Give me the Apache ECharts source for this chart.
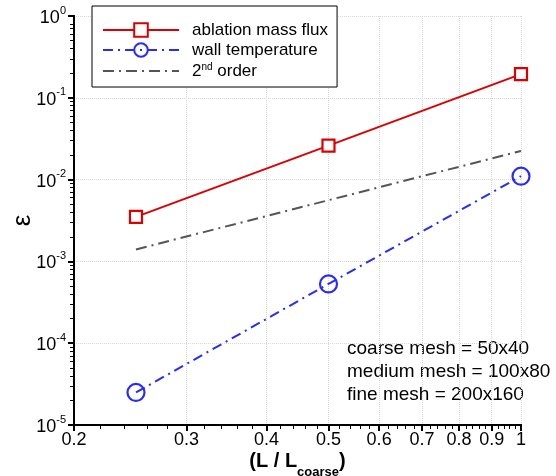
<!DOCTYPE html>
<html>
<head>
<meta charset="utf-8">
<script src="https://cdn.jsdelivr.net/npm/echarts@6/dist/echarts.min.js"></script>
<style>
html,body{margin:0;padding:0;background:#fff;}
#chart{width:556px;height:476px;}
</style>
</head>
<body>
<div id="chart"></div>
<script>
// ---- data ----
const meshRatio = [0.25, 0.5, 1];
const ablationMassFlux = [3.5e-3, 2.6e-2, 0.195];
const wallTemperature = [2.5e-5, 5.3e-4, 1.1e-2];
const orderRatio = [0.25, 1];
const secondOrder = [1.4e-3, 2.24e-2];

const xMajorTicks = [0.2, 0.3, 0.4, 0.5, 0.6, 0.7, 0.8, 0.9, 1];
const xMinorTicks = [0.22, 0.24, 0.26, 0.28, 0.32, 0.34, 0.36, 0.38, 0.42, 0.44, 0.46, 0.48,
  0.52, 0.54, 0.56, 0.58, 0.62, 0.64, 0.66, 0.68, 0.72, 0.74, 0.76, 0.78,
  0.82, 0.84, 0.86, 0.88, 0.92, 0.94, 0.96, 0.98];
const yMajorTicks = [1e-5, 1e-4, 1e-3, 1e-2, 1e-1, 1];
const yMinorMantissas = [2, 3, 4, 5, 6, 7, 8, 9];
const yMinorTicks = [];
for (let e = -5; e < 0; e++) yMinorMantissas.forEach(m => yMinorTicks.push(m * Math.pow(10, e)));

const annotationLines = ['coarse mesh = 50x40', 'medium mesh = 100x80', 'fine mesh = 200x160'];

const FONT = 'Liberation Sans, Arial, Helvetica, sans-serif';

const chart = echarts.init(document.getElementById('chart'), null, {renderer: 'canvas'});

const gridRect = {left: 74, right: 35, top: 16, bottom: 51, containLabel: false, outerBoundsMode: 'none'};

const hiddenLabel = function (values) {
  return {show: true, customValues: values, color: 'rgba(0,0,0,0)', fontSize: 8, formatter: function () { return ' '; }};
};

const option = {
  backgroundColor: '#fff',
  animation: false,
  textStyle: {fontFamily: FONT},
  grid: [Object.assign({}, gridRect), Object.assign({}, gridRect)],
  legend: {
    left: 92, top: 6,
    orient: 'vertical',
    backgroundColor: '#fff',
    borderColor: '#000', borderWidth: 1,
    padding: [16, 9, 7, 10],
    itemWidth: 76, itemHeight: 17, itemGap: 3,
    data: [
      {name: 'ablation mass flux'},
      {name: 'wall temperature'},
      {name: '2nd order', itemStyle: {opacity: 0}}
    ],
    formatter: function (name) {
      return name === '2nd order' ? '{t|2}{sup|nd}{t| order}' : '{t|' + name + '}';
    },
    textStyle: {
      fontFamily: FONT, fontSize: 17, color: '#000', padding: [0, 0, 0, 8],
      rich: {
        t: {fontFamily: FONT, fontSize: 17, color: '#000', verticalAlign: 'bottom', lineHeight: 18},
        sup: {fontFamily: FONT, fontSize: 10, color: '#000', verticalAlign: 'top', lineHeight: 18}
      }
    }
  },
  xAxis: [{
    gridIndex: 0,
    type: 'log', logBase: 10, min: 0.2, max: 1,
    position: 'bottom',
    name: '{b|(L / L}{s|coarse}{b|)}',
    nameLocation: 'middle', nameGap: 26, nameMoveOverlap: false,
    nameTextStyle: {
      rich: {
        b: {fontFamily: FONT, fontSize: 20, fontWeight: 'bold', color: '#000', verticalAlign: 'top', lineHeight: 22},
        s: {fontFamily: FONT, fontSize: 13, fontWeight: 'bold', color: '#000', verticalAlign: 'bottom', lineHeight: 28}
      }
    },
    axisLine: {show: true, lineStyle: {color: '#000', width: 2}},
    axisTick: {show: true, customValues: xMajorTicks, length: 6, lineStyle: {color: '#000', width: 2}},
    axisLabel: {
      customValues: xMajorTicks, margin: 6,
      fontFamily: FONT, fontSize: 18, color: '#000',
      formatter: function (v) { return String(+(+v).toFixed(2)); }
    },
    splitLine: {show: true, lineStyle: {type: 'dotted', color: '#d8d8d8', width: 1}},
    minorTick: {show: false}
  }, {
    gridIndex: 1,
    type: 'log', logBase: 10, min: 0.2, max: 1,
    position: 'bottom',
    axisLine: {show: true, lineStyle: {color: '#000', width: 2}},
    axisTick: {show: true, customValues: xMinorTicks, length: 4, lineStyle: {color: '#000', width: 1}},
    axisLabel: hiddenLabel(xMinorTicks),
    splitLine: {show: false}
  }],
  yAxis: [{
    gridIndex: 0,
    type: 'log', logBase: 10, min: 1e-5, max: 1,
    position: 'left',
    name: 'ε', nameLocation: 'middle', nameGap: 38, nameRotate: 90, nameMoveOverlap: false,
    nameTextStyle: {fontFamily: FONT, fontSize: 26, color: '#000'},
    axisLine: {show: true, lineStyle: {color: '#000', width: 2}},
    axisTick: {show: true, customValues: yMajorTicks, length: 6, lineStyle: {color: '#000', width: 2}},
    axisLabel: {
      customValues: yMajorTicks, margin: 8,
      formatter: function (v) {
        const e = Math.round(Math.log10(v));
        return '{b|10}{sup|' + e + '}';
      },
      rich: {
        b: {fontFamily: FONT, fontSize: 18, color: '#000', verticalAlign: 'bottom', lineHeight: 22},
        sup: {fontFamily: FONT, fontSize: 11, color: '#000', verticalAlign: 'top', lineHeight: 22}
      }
    },
    splitLine: {show: true, lineStyle: {type: 'dotted', color: '#d8d8d8', width: 1}}
  }, {
    gridIndex: 1,
    type: 'log', logBase: 10, min: 1e-5, max: 1,
    position: 'left',
    axisLine: {show: true, lineStyle: {color: '#000', width: 2}},
    axisTick: {show: true, customValues: yMinorTicks, length: 4, lineStyle: {color: '#000', width: 1}},
    axisLabel: hiddenLabel(yMinorTicks),
    splitLine: {show: false}
  }],
  graphic: [{
    type: 'text', left: 347, top: 337,
    style: {
      text: annotationLines.join('\n'),
      fontFamily: FONT, fontSize: 19, lineHeight: 23, fill: '#000'
    }
  }],
  series: [{
    name: 'ablation mass flux', type: 'line',
    xAxisIndex: 0, yAxisIndex: 0,
    data: meshRatio.map((x, i) => [x, ablationMassFlux[i]]),
    symbol: 'rect', symbolSize: 12,
    lineStyle: {color: '#dd0000', width: 2},
    itemStyle: {color: '#fff', borderColor: '#dd0000', borderWidth: 2.2},
    z: 3
  }, {
    name: 'wall temperature', type: 'line',
    xAxisIndex: 0, yAxisIndex: 0,
    data: meshRatio.map((x, i) => [x, wallTemperature[i]]),
    symbol: 'circle', symbolSize: 17,
    lineStyle: {color: '#2a2aff', width: 2, type: [10, 5, 2, 5]},
    itemStyle: {color: 'rgba(255,255,255,0)', borderColor: '#2a2aff', borderWidth: 2.2},
    z: 3
  }, {
    name: '2nd order', type: 'line',
    xAxisIndex: 0, yAxisIndex: 0,
    data: orderRatio.map((x, i) => [x, secondOrder[i]]),
    symbol: 'none', showSymbol: false,
    lineStyle: {color: '#555555', width: 2, type: [11, 5, 2, 5]},
    itemStyle: {color: '#555555'},
    z: 2
  }, {
    // invisible copy so the minor-tick axes (grid 1) are laid out
    name: 'tick holder', type: 'line',
    xAxisIndex: 1, yAxisIndex: 1,
    data: orderRatio.map((x, i) => [x, secondOrder[i]]),
    symbol: 'none', showSymbol: false, silent: true,
    lineStyle: {opacity: 0, width: 0},
    z: 0
  }]
};

chart.setOption(option);
</script>
</body>
</html>
